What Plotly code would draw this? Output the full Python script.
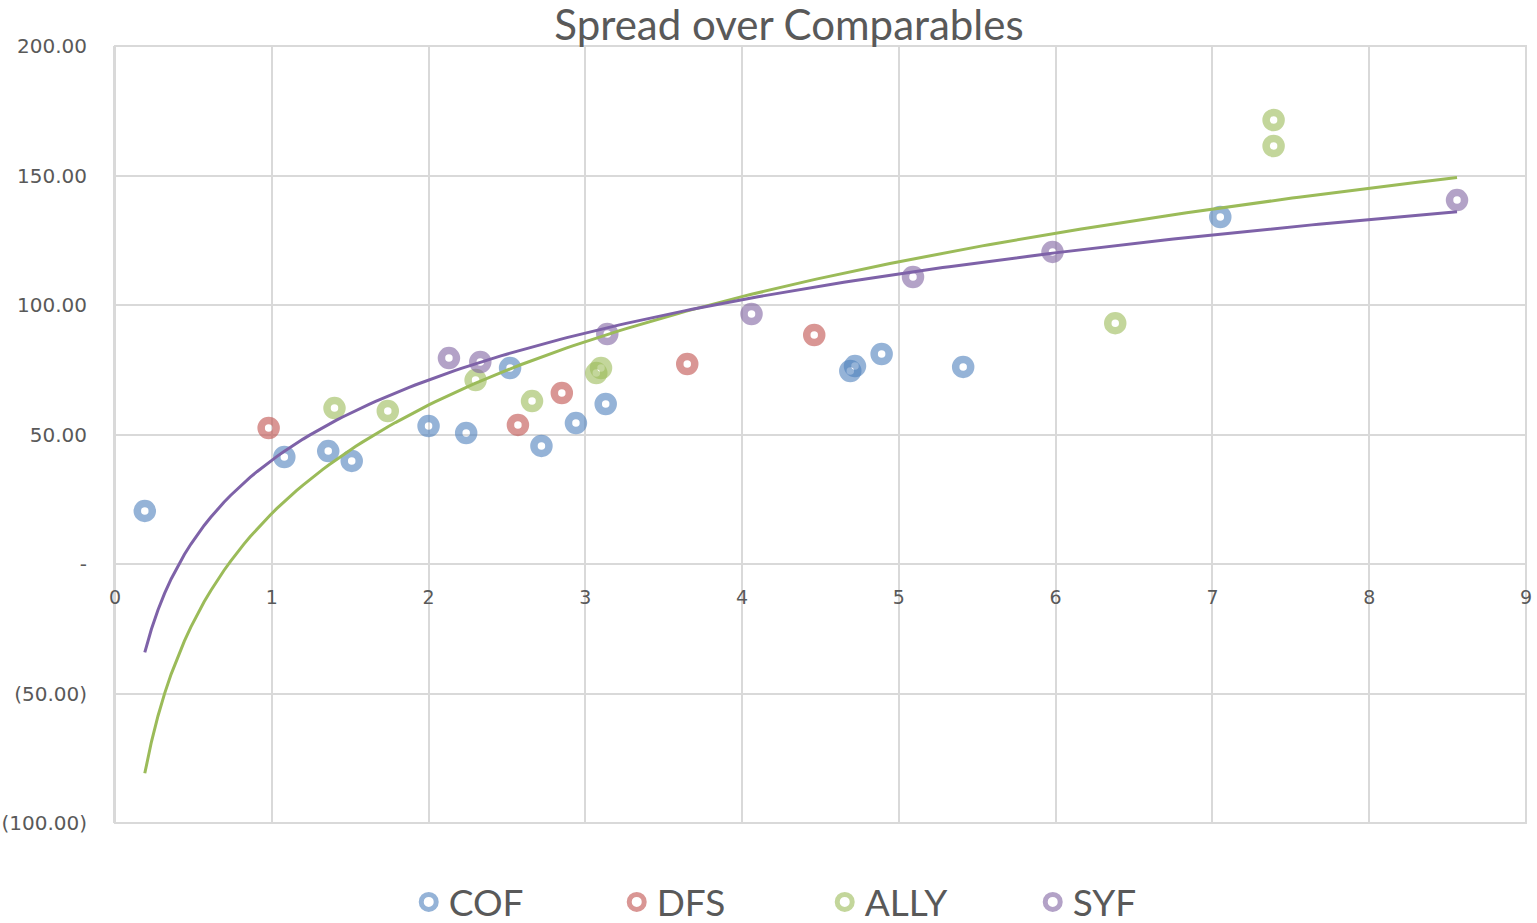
import numpy as np
import plotly.graph_objects as go

# ---- data ----
cof_x = [0.19, 1.08, 1.36, 1.51, 2.00, 2.24, 2.52, 2.72, 2.94, 3.13, 4.69, 4.72, 4.89, 5.41, 7.05]
cof_y = [20.5, 41.3, 43.6, 39.8, 53.3, 50.6, 75.7, 45.6, 54.4, 61.8, 74.5, 76.4, 81.1, 76.1, 134.0]

dfs_x = [0.98, 2.57, 2.85, 3.65, 4.46]
dfs_y = [52.5, 53.7, 66.0, 77.2, 88.4]

ally_x = [1.40, 1.74, 2.30, 2.66, 3.07, 3.10, 6.38, 7.39, 7.39]
ally_y = [60.2, 59.1, 71.0, 62.9, 73.7, 75.7, 93.0, 171.4, 161.4]

syf_x = [2.13, 2.33, 3.14, 4.06, 5.09, 5.98, 8.56]
syf_y = [79.5, 78.0, 88.8, 96.5, 110.8, 120.5, 140.5]

y_tickvals = [-100, -50, 0, 50, 100, 150, 200]
y_ticktext = ["(100.00)", "(50.00)", "-", "50.00", "100.00", "150.00", "200.00"]
x_tickvals = [0, 1, 2, 3, 4, 5, 6, 7, 8, 9]

series = [
    ("COF", cof_x, cof_y, "rgba(79,129,189,0.6)"),
    ("DFS", dfs_x, dfs_y, "rgba(192,80,77,0.6)"),
    ("ALLY", ally_x, ally_y, "rgba(155,187,89,0.6)"),
    ("SYF", syf_x, syf_y, "rgba(128,100,162,0.6)"),
]

fig = go.Figure()


def log_trend(xs, ys, x_lo, x_hi):
    b, a = np.polyfit(np.log(xs), ys, 1)
    xx = np.linspace(x_lo, x_hi, 200)
    return xx, a + b * np.log(xx)


all_x = cof_x + dfs_x + ally_x + syf_x
x_lo, x_hi = min(all_x), max(all_x)

for name, xs, ys, col in series:
    fig.add_trace(go.Scatter(
        x=xs, y=ys, mode="markers", name=name,
        marker=dict(symbol="circle-open", size=15, color=col,
                    line=dict(color=col, width=7.5)),
    ))

# logarithmic trendlines (ALLY, SYF)
tx, ty = log_trend(ally_x, ally_y, x_lo, x_hi)
fig.add_trace(go.Scatter(x=tx, y=ty, mode="lines", showlegend=False,
                         line=dict(color="#9BBB59", width=3), hoverinfo="skip"))
tx, ty = log_trend(syf_x, syf_y, x_lo, x_hi)
fig.add_trace(go.Scatter(x=tx, y=ty, mode="lines", showlegend=False,
                         line=dict(color="#7E62A8", width=3), hoverinfo="skip"))

grid = "#D9D9D9"
# plot-area border (edge gridlines)
fig.add_shape(type="rect", xref="paper", yref="paper", x0=0, x1=1, y0=0, y1=1,
              line=dict(color=grid, width=2), layer="below")

txt = "#595959"
fig.update_layout(
    width=1537, height=923,
    paper_bgcolor="white", plot_bgcolor="white",
    margin=dict(l=115, r=11, t=46, b=100, autoexpand=False),
    title=dict(text="Spread over Comparables", x=789 / 1537, xanchor="center",
               y=1 - 25 / 923, yanchor="middle",
               font=dict(family="Lato", size=42, color=txt)),
    showlegend=True,
    legend=dict(orientation="h", x=0.503, xanchor="center", y=-0.142, yanchor="bottom",
                font=dict(family="Lato", size=37, color=txt),
                entrywidth=163, itemsizing="trace"),
    xaxis=dict(range=[0, 9], tickvals=x_tickvals, showgrid=True,
               gridcolor=grid, gridwidth=2, zeroline=False, showline=False,
               anchor="free", position=1/3, automargin=False,
               ticklabelstandoff=20,
               tickfont=dict(family="DejaVu Sans", size=19, color=txt)),
    yaxis=dict(range=[-100, 200], tickvals=y_tickvals, ticktext=y_ticktext,
               showgrid=True, gridcolor=grid, gridwidth=2, zeroline=False,
               showline=True, linecolor=grid, linewidth=2, automargin=False,
               ticklabelstandoff=22,
               tickfont=dict(family="DejaVu Sans", size=20, color=txt)),
)

fig.write_html("out.html", config={"displayModeBar": False},
               post_script="document.body.style.margin='0';document.body.style.overflow='hidden';")
